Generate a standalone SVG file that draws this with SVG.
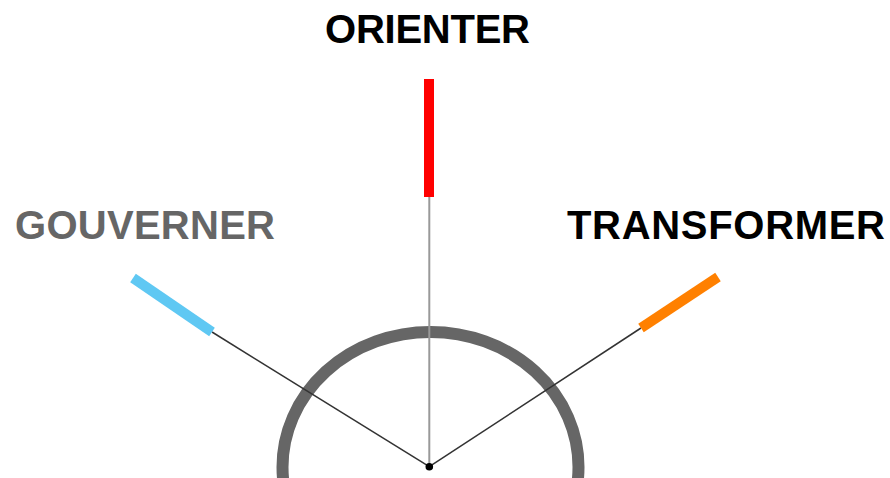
<svg xmlns="http://www.w3.org/2000/svg" width="890" height="478" viewBox="0 0 890 478">
<style>
.lbl{font-family:"Liberation Sans",Arial,sans-serif;font-weight:bold;font-size:40px}
.bar{stroke-width:10;stroke-linecap:butt;fill:none}
.conn{stroke:#333;stroke-width:1.5;fill:none}
</style>
<rect width="890" height="478" fill="#fff"/>
<g id="arc">
<ellipse cx="430.5" cy="467" rx="148" ry="135" fill="none" stroke="#666" stroke-width="12"/>
</g>
<g id="connectors">
<line class="conn" x1="429.3" y1="466.7" x2="212" y2="332"/>
<line x1="429.3" y1="466.7" x2="429.3" y2="197" stroke="#999" stroke-width="2"/>
<line class="conn" x1="429.3" y1="466.7" x2="641" y2="328"/>
</g>
<g id="center">
<circle cx="429.3" cy="466.7" r="3.8" fill="#000"/>
</g>
<g id="gouverner">
<line class="bar" x1="133" y1="278" x2="212" y2="332" stroke="#5FC8F3"/>
<text class="lbl" x="15" y="239" fill="#666" textLength="260">GOUVERNER</text>
</g>
<g id="orienter">
<rect x="424" y="79" width="10" height="118" fill="#FF0000"/>
<text class="lbl" x="325" y="43" fill="#000" textLength="205">ORIENTER</text>
</g>
<g id="transformer">
<line class="bar" x1="641" y1="328" x2="718" y2="277" stroke="#FF8000"/>
<text class="lbl" x="567" y="239" fill="#000" textLength="318">TRANSFORMER</text>
</g>
</svg>
